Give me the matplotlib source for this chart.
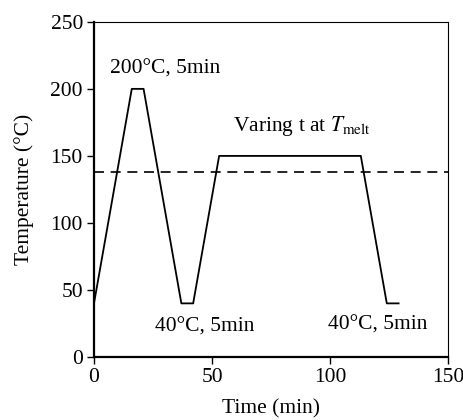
import matplotlib
matplotlib.use("Agg")
import matplotlib.pyplot as plt

# ------------------------------------------------------------
# DATA
# ------------------------------------------------------------
time_min = [0, 16, 21, 37, 42, 53, 113, 124, 129]
temp_c = [40, 200, 200, 40, 40, 150, 150, 40, 40]
t_melt = 138
x_ticks = [0, 50, 100, 150]
y_ticks = [0, 50, 100, 150, 200, 250]

plt.rcParams['font.family'] = ['Liberation Serif', 'DejaVu Serif']
plt.rcParams['mathtext.fontset'] = 'stix'
fs = 15.5

fig = plt.figure(figsize=(4.63, 4.2), dpi=100)
ax = fig.add_axes([0.203, 0.150, 0.765, 0.798])

ax.plot(time_min, temp_c, color='black', lw=1.3)
ax.axhline(t_melt, color='black', lw=1.2, ls=(0, (6, 4)))

ax.text(30, 215, "200°C, 5min", ha='center', va='center', fontsize=fs)
ax.text(88, 172, r"Varing t at $T_{\mathrm{melt}}$", ha='center', va='center', fontsize=fs)
ax.text(47, 22, "40°C, 5min", ha='center', va='center', fontsize=fs)
ax.text(120, 24, "40°C, 5min", ha='center', va='center', fontsize=fs)

ax.set_xlim(0, 150)
ax.set_ylim(0, 250)
ax.set_xticks(x_ticks)
ax.set_yticks(y_ticks)
ax.tick_params(direction='out', length=5, width=1, labelsize=fs, pad=3,
               top=False, right=False)
ax.set_xlabel("Time (min)", fontsize=fs)
ax.set_ylabel("Temperature (°C)", fontsize=fs)
ax.xaxis.set_label_coords(0.5, -0.125)
ax.yaxis.set_label_coords(-0.17, 0.5)

ax.spines['left'].set_linewidth(1.6)
ax.spines['bottom'].set_linewidth(1.6)
ax.spines['top'].set_linewidth(0.8)
ax.spines['right'].set_linewidth(0.8)

fig.savefig("out.png", dpi=100)
